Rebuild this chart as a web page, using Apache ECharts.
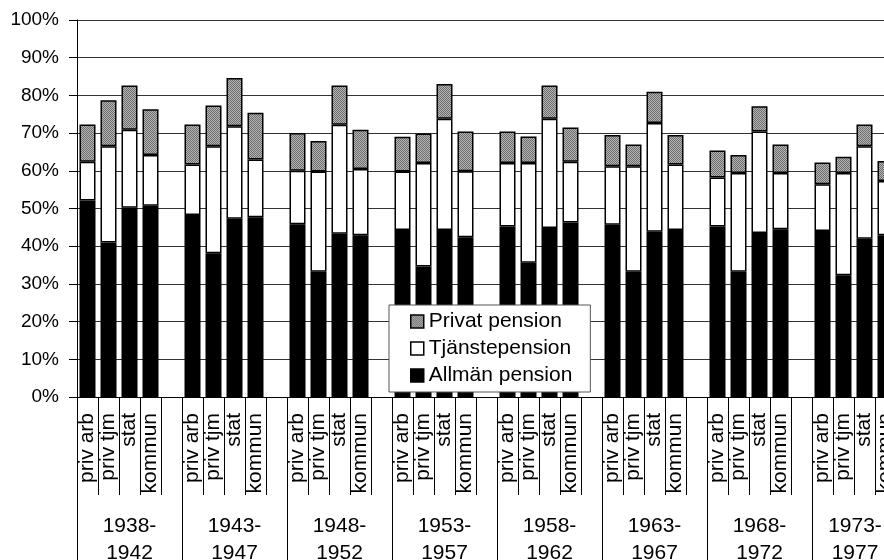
<!DOCTYPE html>
<html>
<head>
<meta charset="utf-8">
<script src="https://cdn.jsdelivr.net/npm/echarts@6/dist/echarts.min.js"></script>
<style>
  html, body { margin: 0; padding: 0; background: #fff; }
  #chart { width: 884px; height: 560px; }
</style>
</head>
<body>
<div id="chart"></div>
<script>
// Pension income shares by sector and cohort (per cent of income)
const periods = ['1938-\n1942', '1943-\n1947', '1948-\n1952', '1953-\n1957',
                 '1958-\n1962', '1963-\n1967', '1968-\n1972', '1973-\n1977'];
const sectors = ['priv arb', 'priv tjm', 'stat', 'kommun'];

// one row per period, values in sector order
const allman = [
  [52.1, 41.0, 50.2, 50.7],
  [48.3, 38.1, 47.3, 47.7],
  [45.8, 33.2, 43.3, 42.9],
  [44.3, 34.6, 44.3, 42.4],
  [45.2, 35.6, 44.8, 46.3],
  [45.7, 33.2, 43.8, 44.3],
  [45.2, 33.2, 43.5, 44.5],
  [44.0, 32.3, 42.0, 42.9]
];
const tjanste = [
  [10.3, 25.5, 20.7, 13.5],
  [13.4, 28.4, 24.5, 15.3],
  [14.2, 26.6, 28.9, 17.6],
  [15.5, 27.5, 29.5, 17.5],
  [16.9, 26.5, 29.0, 16.1],
  [15.5, 28.0, 28.9, 17.4],
  [13.0, 26.2, 26.9, 14.9],
  [12.4, 27.1, 24.5, 14.4]
];
const privat = [
  [9.9, 12.2, 11.7, 12.1],
  [10.6, 10.8, 12.8, 12.4],
  [10.0, 8.1, 10.4, 10.4],
  [9.2, 7.8, 9.2, 10.5],
  [8.3, 7.0, 8.8, 9.1],
  [8.3, 5.8, 8.3, 7.8],
  [7.2, 4.8, 6.7, 7.6],
  [5.8, 4.3, 5.8, 5.3]
];
const yTicks = [0, 10, 20, 30, 40, 50, 60, 70, 80, 90, 100];

// Each period gets its four sector slots plus one empty spacer slot
const categories = [];
const flat = (rows) => {
  const out = [];
  rows.forEach((row) => { row.forEach((v) => out.push(v)); out.push('-'); });
  return out;
};
periods.forEach(() => { sectors.forEach((s) => categories.push(s)); categories.push(''); });

// the last period label is nudged left so it stays inside the canvas
const periodItems = periods.map((p, i) => i === periods.length - 1
  ? { value: p, textStyle: { padding: [0, 19, 0, 0] } }
  : p);

// fine grey checker fill for the private pension part
function checker() {
  const c = document.createElement('canvas');
  c.width = 2; c.height = 2;
  const g = c.getContext('2d');
  g.fillStyle = '#b4b4b4'; g.fillRect(0, 0, 2, 2);
  g.fillStyle = '#6e6e6e'; g.fillRect(0, 0, 1, 1); g.fillRect(1, 1, 1, 1);
  return { image: c, repeat: 'repeat' };
}
const greyFill = checker();

const font = 'Liberation Sans, Arial, sans-serif';
const chart = echarts.init(document.getElementById('chart'), null, { renderer: 'canvas' });

const barCommon = {
  type: 'bar',
  stack: 'total',
  barWidth: 16,
  xAxisIndex: 0,
  emphasis: { disabled: true }
};

chart.setOption({
  animation: false,
  backgroundColor: '#fff',
  textStyle: { fontFamily: font, color: '#000' },
  // the last period runs past the right edge of the canvas
  grid: { left: 77, top: 20, height: 377, width: 840, outerBoundsMode: 'none', containLabel: false },
  legend: {
    orient: 'vertical',
    left: 389, top: 305,
    padding: [6, 18, 6, 21],
    itemGap: 6,
    itemWidth: 13, itemHeight: 13,
    backgroundColor: '#fff',
    borderColor: '#555', borderWidth: 1,
    textStyle: { fontFamily: font, fontSize: 21, color: '#000' },
    data: [
      { name: 'Privat pension', icon: 'rect', itemStyle: { color: greyFill, borderColor: '#000', borderWidth: 1.5 } },
      { name: 'Tjänstepension', icon: 'rect', itemStyle: { color: '#fff', borderColor: '#000', borderWidth: 1.5 } },
      { name: 'Allmän pension', icon: 'rect', itemStyle: { color: '#000', borderColor: '#000', borderWidth: 1.5 } }
    ]
  },
  xAxis: [
    {
      type: 'category',
      data: categories,
      position: 'bottom',
      axisLine: { show: true, lineStyle: { color: '#000', width: 1 } },
      axisTick: { show: true, interval: 0, length: 98, lineStyle: { color: '#000' } },
      axisLabel: {
        interval: 0, rotate: 90, margin: 16,
        fontFamily: font, fontSize: 21, color: '#000'
      },
      splitLine: { show: false }
    },
    {
      type: 'category',
      data: periodItems,
      position: 'bottom',
      axisLine: { show: false },
      axisTick: { show: true, interval: 0, length: 163, lineStyle: { color: '#000' } },
      axisLabel: {
        interval: 0, margin: 116, lineHeight: 27,
        fontFamily: font, fontSize: 21, color: '#000'
      },
      splitLine: { show: false }
    }
  ],
  yAxis: {
    type: 'value',
    min: yTicks[0], max: yTicks[yTicks.length - 1], interval: 10,
    axisLine: { show: true, lineStyle: { color: '#000' } },
    axisTick: { show: true, length: 8, inside: false, lineStyle: { color: '#000' } },
    axisLabel: { margin: 18, fontFamily: font, fontSize: 19, color: '#000', formatter: '{value}%' },
    splitLine: { show: true, lineStyle: { color: '#333', width: 1 } }
  },
  series: [
    Object.assign({}, barCommon, { name: 'Allmän pension', data: flat(allman),
      itemStyle: { color: '#000', borderColor: '#000', borderWidth: 1.5 } }),
    Object.assign({}, barCommon, { name: 'Tjänstepension', data: flat(tjanste),
      itemStyle: { color: '#fff', borderColor: '#000', borderWidth: 1.5 } }),
    Object.assign({}, barCommon, { name: 'Privat pension', data: flat(privat),
      itemStyle: { color: greyFill, borderColor: '#000', borderWidth: 1.5 } })
  ]
});
</script>
</body>
</html>
